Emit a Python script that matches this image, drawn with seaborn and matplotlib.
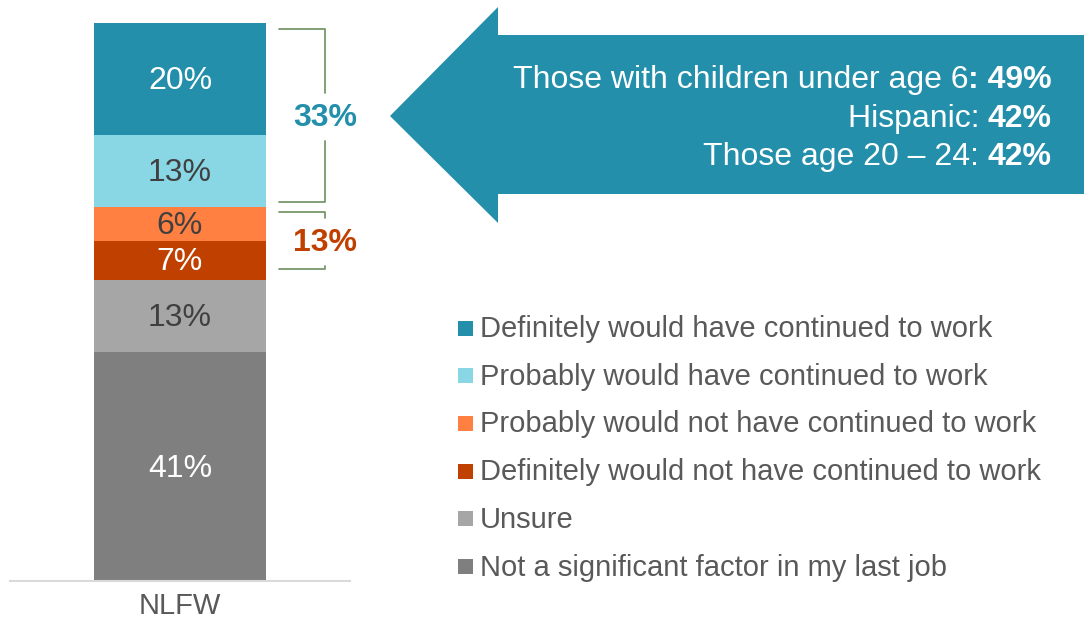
import pandas as pd
import numpy as np
import matplotlib.pyplot as plt
from matplotlib.patches import Polygon, Rectangle
import seaborn as sns

# data
group = "NLFW"
responses = [
    "Definitely would have continued to work",
    "Probably would have continued to work",
    "Probably would not have continued to work",
    "Definitely would not have continued to work",
    "Unsure",
    "Not a significant factor in my last job",
]
shares = [20, 13, 6, 7, 13, 41]
colors = ["#238FAA", "#89D6E5", "#FF8040", "#C04000", "#A6A6A6", "#7F7F7F"]
label_colors = ["white", "#404040", "#404040", "white", "#404040", "white"]
bracket_labels = ["33%", "13%"]
callout_lines = [("Those with children under age 6", ": 49%"),
                 ("Hispanic: ", "42%"),
                 ("Those age 20 \u2013 24: ", "42%")]

df = pd.DataFrame({"group": group, "response": responses, "share": shares})

sns.set_style("white")
plt.rcParams["font.family"] = ["Liberation Sans", "DejaVu Sans"]

W, H = 1084, 620
fig = plt.figure(figsize=(W / 100, H / 100), dpi=100)

# bar axes: y=0 at px 581, y=100 at px 23; spine spans px 10..350
ax = fig.add_axes([10 / W, (H - 581) / H, 340 / W, 558 / H])
sns.histplot(data=df, x="group", hue="response", weights="share",
             hue_order=responses, palette=dict(zip(responses, colors)),
             multiple="stack", discrete=True, shrink=0.503,
             linewidth=0, alpha=1, legend=False, ax=ax)
ax.set_xlim(-0.5, 0.5)
ax.set_ylim(0, 100)
ax.set_xlabel("")
ax.set_ylabel("")
ax.set_yticks([])
for s in ["top", "right", "left"]:
    ax.spines[s].set_visible(False)
ax.spines["bottom"].set_color("#D9D9D9")
ax.spines["bottom"].set_linewidth(1.5)
ax.tick_params(axis="x", length=0, labelsize=21, labelcolor="#595959", pad=8)

# segment labels (stacked top-down), nudged ~2px down
top = 100
for v, c in zip(shares, label_colors):
    ax.text(0, top - v / 2 - 0.4, f"{v}%", ha="center", va="center",
            fontsize=23, color=c)
    top -= v

# overlay in pixel coordinates for annotations
ov = fig.add_axes([0, 0, 1, 1], facecolor="none")
ov.set_xlim(0, W)
ov.set_ylim(H, 0)
ov.axis("off")

# brackets
bc = "#77996A"
def bracket(y0, y1, ylab, text, tcolor):
    gap = 24
    ov.plot([279, 325, 325], [y0, y0, ylab - gap], color=bc, lw=1.3)
    ov.plot([279, 325, 325], [y1, y1, ylab + gap], color=bc, lw=1.3)
    ov.text(325, ylab + 1, text, ha="center", va="center", fontsize=23,
            fontweight="bold", color=tcolor)

bracket(29, 202, 117, bracket_labels[0], colors[0])
bracket(212, 269, 242, bracket_labels[1], colors[3])

# callout arrow
arrow = Polygon([(390, 116), (498, 7), (498, 35), (1084, 35), (1084, 194),
                 (498, 194), (498, 223)], closed=True, facecolor=colors[0],
                edgecolor="none")
ov.add_patch(arrow)
for (a, b), y in zip(callout_lines, [80, 119, 157]):
    tb = ov.text(1052, y, b, ha="right", va="center", fontsize=23,
                 fontweight="bold", color="white")
    fig.canvas.draw()
    bb = tb.get_window_extent()
    ov.text(1052 - bb.width, y, a, ha="right", va="center", fontsize=23,
            color="white")

# legend
for i, (lab, c) in enumerate(zip(responses, colors)):
    y = 328 + i * 47.7
    ov.add_patch(Rectangle((458, y - 7.5), 15, 15, facecolor=c, edgecolor="none"))
    ov.text(480, y + 1, lab, ha="left", va="center", fontsize=21, color="#595959")

fig.savefig("out.png", dpi=100)
